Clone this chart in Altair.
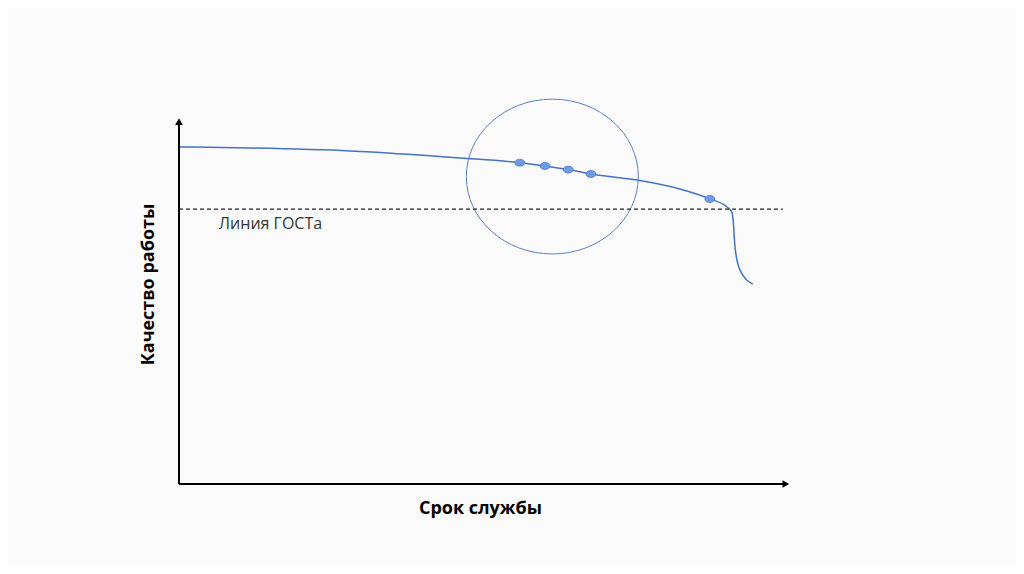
import altair as alt
import pandas as pd

# Curve (service life vs quality), data units 0..100
curve_x = [0, 11.6, 27.9, 45.8, 55.6, 59.7, 63.5, 67.2, 75.2, 81.7, 86.6, 89.4, 90.2, 90.4, 90.7, 91.5, 93.6]
curve_y = [92.1, 91.8, 91.0, 89.1, 87.8, 86.9, 85.9, 84.7, 82.9, 80.6, 77.9, 75.7, 74.3, 72.1, 64.8, 58.5, 54.6]

dots_x = [55.6, 59.7, 63.5, 67.2, 86.6]
dots_y = [87.8, 86.9, 85.9, 84.7, 77.9]

gost_level = 75.1
gost_end = 98.5
gost_label = "Линия ГОСТа"

circle_x = [60.9]
circle_y = [84.0]

x_title = "Срок службы"
y_title = "Качество работы"

FONT = "Open Sans"
BLUE = "#4472c4"

xs = alt.Scale(domain=[0, 100], nice=False, zero=False)
ys = alt.Scale(domain=[0, 100], nice=False, zero=False)

curve_df = pd.DataFrame({"x": curve_x, "y": curve_y})
dots_df = pd.DataFrame({"x": dots_x, "y": dots_y})
gost_df = pd.DataFrame({"x": [0], "x2": [gost_end], "y": [gost_level]})
label_df = pd.DataFrame({"x": [6.5], "y": [gost_level - 4.1], "t": [gost_label]})
circ_df = pd.DataFrame({"x": circle_x, "y": circle_y})
xaxis_df = pd.DataFrame({"x": [0], "x2": [99], "y": [0]})
yaxis_df = pd.DataFrame({"x": [0], "y": [0], "y2": [99]})
arr_x_df = pd.DataFrame({"x": [99], "y": [0]})
arr_y_df = pd.DataFrame({"x": [0], "y": [99]})

base_x = alt.X("x:Q", scale=xs, axis=alt.Axis(title=x_title, domain=False, ticks=False, labels=False, grid=False,
                                               titleFont=FONT, titleFontSize=18, titleFontWeight="bold",
                                               titleColor="#000", titlePadding=15, titleX=301))
base_y = alt.Y("y:Q", scale=ys, axis=alt.Axis(title=y_title, domain=False, ticks=False, labels=False, grid=False,
                                               titleFont=FONT, titleFontSize=18, titleFontWeight="bold",
                                               titleColor="#000", titlePadding=22, titleY=166))

curve = alt.Chart(curve_df).mark_line(color=BLUE, strokeWidth=1.5, interpolate="monotone").encode(x=base_x, y=base_y)

ellipse_path = "M -1 0 A 1 0.7 0 1 0 1 0 A 1 0.7 0 1 0 -1 0 Z"
dots = alt.Chart(dots_df).mark_point(shape=ellipse_path, size=100, filled=True, fill="#6f9be6", fillOpacity=1,
                                     stroke="#4a78c8", strokeWidth=0.8).encode(x=alt.X("x:Q", scale=xs), y=alt.Y("y:Q", scale=ys))

circle_path = "M -1 0 A 1 0.9 0 1 0 1 0 A 1 0.9 0 1 0 -1 0 Z"
circ = alt.Chart(circ_df).mark_point(shape=circle_path, size=172 * 172, filled=False, stroke="#5b7fc4",
                                     strokeWidth=1, opacity=1).encode(x=alt.X("x:Q", scale=xs), y=alt.Y("y:Q", scale=ys))

gost = alt.Chart(gost_df).mark_rule(color="#222", strokeDash=[4, 3], strokeWidth=1.2).encode(
    x=alt.X("x:Q", scale=xs), x2="x2:Q", y=alt.Y("y:Q", scale=ys))

label = alt.Chart(label_df).mark_text(align="left", baseline="middle", font=FONT, fontSize=16, color="#333").encode(
    x=alt.X("x:Q", scale=xs), y=alt.Y("y:Q", scale=ys), text="t:N")

xaxis = alt.Chart(xaxis_df).mark_rule(color="#000", strokeWidth=2).encode(
    x=alt.X("x:Q", scale=xs), x2="x2:Q", y=alt.Y("y:Q", scale=ys))
yaxis = alt.Chart(yaxis_df).mark_rule(color="#000", strokeWidth=2).encode(
    x=alt.X("x:Q", scale=xs), y=alt.Y("y:Q", scale=ys), y2="y2:Q")
arr_x = alt.Chart(arr_x_df).mark_point(shape="triangle-right", size=60, filled=True, color="#000", opacity=1).encode(
    x=alt.X("x:Q", scale=xs), y=alt.Y("y:Q", scale=ys))
arr_y = alt.Chart(arr_y_df).mark_point(shape="triangle-up", size=60, filled=True, color="#000", opacity=1).encode(
    x=alt.X("x:Q", scale=xs), y=alt.Y("y:Q", scale=ys))

chart = alt.layer(curve, circ, gost, label, dots, xaxis, yaxis, arr_x, arr_y).properties(
    width=613, height=366,
    autosize=alt.AutoSizeParams(type="none"),
    padding={"left": 171, "top": 110, "right": 224, "bottom": 82},
    background="#fbfbfb",
).configure_view(stroke=None)

chart.save("out.html", embed_options={"renderer": "svg", "actions": False})
